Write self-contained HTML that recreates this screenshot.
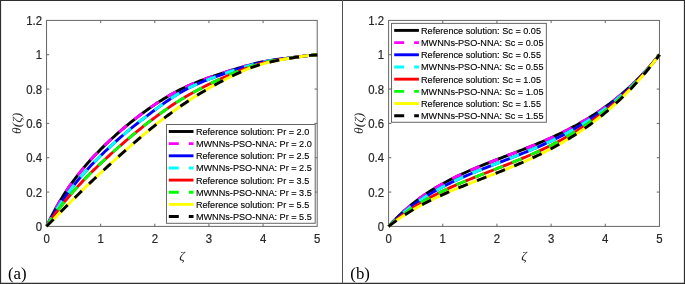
<!DOCTYPE html>
<html><head><meta charset="utf-8"><title>Figure</title>
<style>
html,body{margin:0;padding:0;background:#fff;}
body{width:685px;height:284px;overflow:hidden;font-family:"Liberation Sans",sans-serif;}
svg{display:block;will-change:transform}
.tk{font-family:"Liberation Sans",sans-serif;font-size:11.4px;fill:#262626;stroke:#262626;stroke-width:0.18px}
.lg{font-family:"Liberation Sans",sans-serif;font-size:9.14px;fill:#000;stroke:#000;stroke-width:0.12px}
.al{font-family:"Liberation Serif",serif;font-style:italic;font-size:13.5px;fill:#262626}
.pn{font-family:"Liberation Serif",serif;font-size:16.8px;fill:#000}
</style></head><body>
<svg width="685" height="284" viewBox="0 0 685 284">
<defs>
<clipPath id="cl"><rect x="44.55" y="18.4" width="274.65" height="210.0"/></clipPath>
<clipPath id="cr"><rect x="386.6" y="18.4" width="274.85" height="210.0"/></clipPath>
</defs>
<rect x="0" y="0" width="685" height="284" fill="#fff"/>
<rect x="46.55" y="20.4" width="270.65" height="206.0" fill="#fff" stroke="#666" stroke-width="1"/>
<text transform="translate(46.55,243.00) scale(1,1.11)" text-anchor="middle" class="tk">0</text>
<path d="M100.68,226.4 v-2.7 M100.68,20.4 v2.7" stroke="#666" stroke-width="1" fill="none"/>
<text transform="translate(100.68,243.00) scale(1,1.11)" text-anchor="middle" class="tk">1</text>
<path d="M154.81,226.4 v-2.7 M154.81,20.4 v2.7" stroke="#666" stroke-width="1" fill="none"/>
<text transform="translate(154.81,243.00) scale(1,1.11)" text-anchor="middle" class="tk">2</text>
<path d="M208.94,226.4 v-2.7 M208.94,20.4 v2.7" stroke="#666" stroke-width="1" fill="none"/>
<text transform="translate(208.94,243.00) scale(1,1.11)" text-anchor="middle" class="tk">3</text>
<path d="M263.07,226.4 v-2.7 M263.07,20.4 v2.7" stroke="#666" stroke-width="1" fill="none"/>
<text transform="translate(263.07,243.00) scale(1,1.11)" text-anchor="middle" class="tk">4</text>
<text transform="translate(317.20,243.00) scale(1,1.11)" text-anchor="middle" class="tk">5</text>
<text transform="translate(42.05,231.00) scale(1,1.11)" text-anchor="end" class="tk">0</text>
<path d="M46.55,192.07 h2.7 M317.2,192.07 h-2.7" stroke="#666" stroke-width="1" fill="none"/>
<text transform="translate(42.05,196.67) scale(1,1.11)" text-anchor="end" class="tk">0.2</text>
<path d="M46.55,157.73 h2.7 M317.2,157.73 h-2.7" stroke="#666" stroke-width="1" fill="none"/>
<text transform="translate(42.05,162.33) scale(1,1.11)" text-anchor="end" class="tk">0.4</text>
<path d="M46.55,123.40 h2.7 M317.2,123.40 h-2.7" stroke="#666" stroke-width="1" fill="none"/>
<text transform="translate(42.05,128.00) scale(1,1.11)" text-anchor="end" class="tk">0.6</text>
<path d="M46.55,89.07 h2.7 M317.2,89.07 h-2.7" stroke="#666" stroke-width="1" fill="none"/>
<text transform="translate(42.05,93.67) scale(1,1.11)" text-anchor="end" class="tk">0.8</text>
<path d="M46.55,54.73 h2.7 M317.2,54.73 h-2.7" stroke="#666" stroke-width="1" fill="none"/>
<text transform="translate(42.05,59.33) scale(1,1.11)" text-anchor="end" class="tk">1</text>
<text transform="translate(42.05,25.00) scale(1,1.11)" text-anchor="end" class="tk">1.2</text>
<text x="181.88" y="259.90" text-anchor="middle" class="al">ζ</text>
<text transform="translate(21.25,123.40) rotate(-90)" text-anchor="middle" class="al">θ(ζ)</text>
<g clip-path="url(#cl)" fill="none" stroke-width="2.9" stroke-linejoin="round">
<path d="M46.55,226.40 L48.81,221.77 L51.06,217.27 L53.32,212.93 L55.57,208.74 L57.83,204.71 L60.08,200.85 L62.34,197.16 L64.59,193.61 L66.85,190.19 L69.10,186.89 L71.36,183.69 L73.61,180.59 L75.87,177.58 L78.13,174.67 L80.38,171.85 L82.64,169.10 L84.89,166.43 L87.15,163.81 L89.40,161.26 L91.66,158.77 L93.91,156.34 L96.17,153.97 L98.42,151.64 L100.68,149.35 L102.94,147.10 L105.19,144.90 L107.45,142.74 L109.70,140.62 L111.96,138.53 L114.21,136.48 L116.47,134.45 L118.72,132.46 L120.98,130.50 L123.23,128.57 L125.49,126.67 L127.74,124.81 L130.00,122.96 L132.26,121.15 L134.51,119.36 L136.77,117.61 L139.02,115.88 L141.28,114.18 L143.53,112.51 L145.79,110.86 L148.04,109.25 L150.30,107.66 L152.55,106.10 L154.81,104.58 L157.07,103.08 L159.32,101.62 L161.58,100.18 L163.83,98.78 L166.09,97.41 L168.34,96.07 L170.60,94.78 L172.85,93.51 L175.11,92.27 L177.36,91.07 L179.62,89.91 L181.88,88.78 L184.13,87.69 L186.39,86.64 L188.64,85.61 L190.90,84.62 L193.15,83.66 L195.41,82.73 L197.66,81.83 L199.92,80.96 L202.17,80.10 L204.43,79.27 L206.68,78.46 L208.94,77.66 L211.20,76.88 L213.45,76.11 L215.71,75.35 L217.96,74.60 L220.22,73.86 L222.47,73.12 L224.73,72.39 L226.98,71.67 L229.24,70.96 L231.49,70.25 L233.75,69.56 L236.00,68.87 L238.26,68.20 L240.52,67.54 L242.77,66.89 L245.03,66.26 L247.28,65.64 L249.54,65.04 L251.79,64.44 L254.05,63.85 L256.30,63.28 L258.56,62.76 L260.81,62.26 L263.07,61.79 L265.33,61.35 L267.58,60.94 L269.84,60.56 L272.09,60.20 L274.35,59.86 L276.60,59.55 L278.86,59.24 L281.11,58.95 L283.37,58.66 L285.62,58.38 L287.88,58.11 L290.13,57.83 L292.39,57.56 L294.65,57.27 L296.90,56.97 L299.16,56.67 L301.41,56.38 L303.67,56.10 L305.92,55.83 L308.18,55.59 L310.43,55.38 L312.69,55.21 L314.94,55.07 L317.20,54.98" stroke="#000000"/>
<path d="M46.55,226.40 L48.81,221.77 L51.06,217.27 L53.32,212.93 L55.57,208.74 L57.83,204.71 L60.08,200.85 L62.34,197.16 L64.59,193.61 L66.85,190.19 L69.10,186.89 L71.36,183.69 L73.61,180.59 L75.87,177.58 L78.13,174.67 L80.38,171.85 L82.64,169.10 L84.89,166.43 L87.15,163.81 L89.40,161.26 L91.66,158.77 L93.91,156.34 L96.17,153.97 L98.42,151.64 L100.68,149.35 L102.94,147.10 L105.19,144.90 L107.45,142.74 L109.70,140.62 L111.96,138.53 L114.21,136.48 L116.47,134.45 L118.72,132.46 L120.98,130.50 L123.23,128.57 L125.49,126.67 L127.74,124.81 L130.00,122.96 L132.26,121.15 L134.51,119.36 L136.77,117.61 L139.02,115.88 L141.28,114.18 L143.53,112.51 L145.79,110.86 L148.04,109.25 L150.30,107.66 L152.55,106.10 L154.81,104.58 L157.07,103.08 L159.32,101.62 L161.58,100.18 L163.83,98.78 L166.09,97.41 L168.34,96.07 L170.60,94.78 L172.85,93.51 L175.11,92.27 L177.36,91.07 L179.62,89.91 L181.88,88.78 L184.13,87.69 L186.39,86.64 L188.64,85.61 L190.90,84.62 L193.15,83.66 L195.41,82.73 L197.66,81.83 L199.92,80.96 L202.17,80.10 L204.43,79.27 L206.68,78.46 L208.94,77.66 L211.20,76.88 L213.45,76.11 L215.71,75.35 L217.96,74.60 L220.22,73.86 L222.47,73.12 L224.73,72.39 L226.98,71.67 L229.24,70.96 L231.49,70.25 L233.75,69.56 L236.00,68.87 L238.26,68.20 L240.52,67.54 L242.77,66.89 L245.03,66.26 L247.28,65.64 L249.54,65.04 L251.79,64.44 L254.05,63.85 L256.30,63.28 L258.56,62.76 L260.81,62.26 L263.07,61.79 L265.33,61.35 L267.58,60.94 L269.84,60.56 L272.09,60.20 L274.35,59.86 L276.60,59.55 L278.86,59.24 L281.11,58.95 L283.37,58.66 L285.62,58.38 L287.88,58.11 L290.13,57.83 L292.39,57.56 L294.65,57.27 L296.90,56.97 L299.16,56.67 L301.41,56.38 L303.67,56.10 L305.92,55.83 L308.18,55.59 L310.43,55.38 L312.69,55.21 L314.94,55.07 L317.20,54.98" stroke="#ff00ff" stroke-dasharray="10 10" stroke-dashoffset="0"/>
<path d="M46.55,226.37 L48.81,222.38 L51.06,218.48 L53.32,214.70 L55.57,211.02 L57.83,207.46 L60.08,204.03 L62.34,200.72 L64.59,197.51 L66.85,194.40 L69.10,191.37 L71.36,188.42 L73.61,185.55 L75.87,182.74 L78.13,180.01 L80.38,177.35 L82.64,174.75 L84.89,172.21 L87.15,169.71 L89.40,167.26 L91.66,164.86 L93.91,162.51 L96.17,160.21 L98.42,157.94 L100.68,155.70 L102.94,153.50 L105.19,151.33 L107.45,149.20 L109.70,147.09 L111.96,145.01 L114.21,142.96 L116.47,140.94 L118.72,138.93 L120.98,136.96 L123.23,135.01 L125.49,133.08 L127.74,131.18 L130.00,129.30 L132.26,127.44 L134.51,125.61 L136.77,123.80 L139.02,122.02 L141.28,120.26 L143.53,118.53 L145.79,116.81 L148.04,115.09 L150.30,113.37 L152.55,111.66 L154.81,109.97 L157.07,108.29 L159.32,106.62 L161.58,104.98 L163.83,103.36 L166.09,101.77 L168.34,100.21 L170.60,98.69 L172.85,97.21 L175.11,95.76 L177.36,94.35 L179.62,92.99 L181.88,91.68 L184.13,90.41 L186.39,89.19 L188.64,88.02 L190.90,86.89 L193.15,85.82 L195.41,84.79 L197.66,83.80 L199.92,82.85 L202.17,81.92 L204.43,81.01 L206.68,80.13 L208.94,79.26 L211.20,78.40 L213.45,77.56 L215.71,76.73 L217.96,75.90 L220.22,75.09 L222.47,74.28 L224.73,73.49 L226.98,72.70 L229.24,71.93 L231.49,71.16 L233.75,70.40 L236.00,69.66 L238.26,68.93 L240.52,68.22 L242.77,67.52 L245.03,66.84 L247.28,66.18 L249.54,65.53 L251.79,64.89 L254.05,64.27 L256.30,63.67 L258.56,63.11 L260.81,62.58 L263.07,62.09 L265.33,61.62 L267.58,61.19 L269.84,60.78 L272.09,60.40 L274.35,60.04 L276.60,59.70 L278.86,59.38 L281.11,59.07 L283.37,58.76 L285.62,58.47 L287.88,58.18 L290.13,57.89 L292.39,57.60 L294.65,57.30 L296.90,57.00 L299.16,56.69 L301.41,56.39 L303.67,56.11 L305.92,55.84 L308.18,55.60 L310.43,55.38 L312.69,55.21 L314.94,55.07 L317.20,54.98" stroke="#0000ff"/>
<path d="M46.55,226.37 L48.81,222.38 L51.06,218.48 L53.32,214.70 L55.57,211.02 L57.83,207.46 L60.08,204.03 L62.34,200.72 L64.59,197.51 L66.85,194.40 L69.10,191.37 L71.36,188.42 L73.61,185.55 L75.87,182.74 L78.13,180.01 L80.38,177.35 L82.64,174.75 L84.89,172.21 L87.15,169.71 L89.40,167.26 L91.66,164.86 L93.91,162.51 L96.17,160.21 L98.42,157.94 L100.68,155.70 L102.94,153.50 L105.19,151.33 L107.45,149.20 L109.70,147.09 L111.96,145.01 L114.21,142.96 L116.47,140.94 L118.72,138.93 L120.98,136.96 L123.23,135.01 L125.49,133.08 L127.74,131.18 L130.00,129.30 L132.26,127.44 L134.51,125.61 L136.77,123.80 L139.02,122.02 L141.28,120.26 L143.53,118.53 L145.79,116.81 L148.04,115.09 L150.30,113.37 L152.55,111.66 L154.81,109.97 L157.07,108.29 L159.32,106.62 L161.58,104.98 L163.83,103.36 L166.09,101.77 L168.34,100.21 L170.60,98.69 L172.85,97.21 L175.11,95.76 L177.36,94.35 L179.62,92.99 L181.88,91.68 L184.13,90.41 L186.39,89.19 L188.64,88.02 L190.90,86.89 L193.15,85.82 L195.41,84.79 L197.66,83.80 L199.92,82.85 L202.17,81.92 L204.43,81.01 L206.68,80.13 L208.94,79.26 L211.20,78.40 L213.45,77.56 L215.71,76.73 L217.96,75.90 L220.22,75.09 L222.47,74.28 L224.73,73.49 L226.98,72.70 L229.24,71.93 L231.49,71.16 L233.75,70.40 L236.00,69.66 L238.26,68.93 L240.52,68.22 L242.77,67.52 L245.03,66.84 L247.28,66.18 L249.54,65.53 L251.79,64.89 L254.05,64.27 L256.30,63.67 L258.56,63.11 L260.81,62.58 L263.07,62.09 L265.33,61.62 L267.58,61.19 L269.84,60.78 L272.09,60.40 L274.35,60.04 L276.60,59.70 L278.86,59.38 L281.11,59.07 L283.37,58.76 L285.62,58.47 L287.88,58.18 L290.13,57.89 L292.39,57.60 L294.65,57.30 L296.90,57.00 L299.16,56.69 L301.41,56.39 L303.67,56.11 L305.92,55.84 L308.18,55.60 L310.43,55.38 L312.69,55.21 L314.94,55.07 L317.20,54.98" stroke="#00ffff" stroke-dasharray="10 10" stroke-dashoffset="0"/>
<path d="M46.55,226.35 L48.81,222.98 L51.06,219.69 L53.32,216.48 L55.57,213.36 L57.83,210.33 L60.08,207.38 L62.34,204.51 L64.59,201.71 L66.85,198.98 L69.10,196.30 L71.36,193.68 L73.61,191.11 L75.87,188.58 L78.13,186.11 L80.38,183.68 L82.64,181.29 L84.89,178.94 L87.15,176.62 L89.40,174.34 L91.66,172.09 L93.91,169.88 L96.17,167.69 L98.42,165.53 L100.68,163.39 L102.94,161.28 L105.19,159.19 L107.45,157.12 L109.70,155.07 L111.96,153.03 L114.21,151.01 L116.47,149.01 L118.72,147.02 L120.98,145.05 L123.23,143.09 L125.49,141.16 L127.74,139.23 L130.00,137.32 L132.26,135.43 L134.51,133.56 L136.77,131.70 L139.02,129.86 L141.28,128.04 L143.53,126.24 L145.79,124.46 L148.04,122.70 L150.30,120.96 L152.55,119.24 L154.81,117.54 L157.07,115.86 L159.32,114.21 L161.58,112.58 L163.83,110.97 L166.09,109.39 L168.34,107.83 L170.60,106.30 L172.85,104.79 L175.11,103.32 L177.36,101.86 L179.62,100.44 L181.88,99.04 L184.13,97.68 L186.39,96.34 L188.64,95.03 L190.90,93.74 L193.15,92.48 L195.41,91.25 L197.66,90.04 L199.92,88.86 L202.17,87.69 L204.43,86.55 L206.68,85.42 L208.94,84.32 L211.20,83.23 L213.45,82.15 L215.71,81.09 L217.96,80.05 L220.22,79.01 L222.47,77.99 L224.73,76.98 L226.98,75.99 L229.24,75.01 L231.49,74.05 L233.75,73.10 L236.00,72.18 L238.26,71.27 L240.52,70.39 L242.77,69.53 L245.03,68.69 L247.28,67.88 L249.54,67.10 L251.79,66.34 L254.05,65.61 L256.30,64.91 L258.56,64.25 L260.81,63.63 L263.07,63.04 L265.33,62.49 L267.58,61.98 L269.84,61.49 L272.09,61.04 L274.35,60.61 L276.60,60.20 L278.86,59.81 L281.11,59.44 L283.37,59.09 L285.62,58.74 L287.88,58.41 L290.13,58.08 L292.39,57.76 L294.65,57.42 L296.90,57.09 L299.16,56.76 L301.41,56.44 L303.67,56.13 L305.92,55.85 L308.18,55.60 L310.43,55.38 L312.69,55.21 L314.94,55.07 L317.20,54.98" stroke="#ff0000"/>
<path d="M46.55,226.35 L48.81,222.98 L51.06,219.69 L53.32,216.48 L55.57,213.36 L57.83,210.33 L60.08,207.38 L62.34,204.51 L64.59,201.71 L66.85,198.98 L69.10,196.30 L71.36,193.68 L73.61,191.11 L75.87,188.58 L78.13,186.11 L80.38,183.68 L82.64,181.29 L84.89,178.94 L87.15,176.62 L89.40,174.34 L91.66,172.09 L93.91,169.88 L96.17,167.69 L98.42,165.53 L100.68,163.39 L102.94,161.28 L105.19,159.19 L107.45,157.12 L109.70,155.07 L111.96,153.03 L114.21,151.01 L116.47,149.01 L118.72,147.02 L120.98,145.05 L123.23,143.09 L125.49,141.16 L127.74,139.23 L130.00,137.32 L132.26,135.43 L134.51,133.56 L136.77,131.70 L139.02,129.86 L141.28,128.04 L143.53,126.24 L145.79,124.46 L148.04,122.70 L150.30,120.96 L152.55,119.24 L154.81,117.54 L157.07,115.86 L159.32,114.21 L161.58,112.58 L163.83,110.97 L166.09,109.39 L168.34,107.83 L170.60,106.30 L172.85,104.79 L175.11,103.32 L177.36,101.86 L179.62,100.44 L181.88,99.04 L184.13,97.68 L186.39,96.34 L188.64,95.03 L190.90,93.74 L193.15,92.48 L195.41,91.25 L197.66,90.04 L199.92,88.86 L202.17,87.69 L204.43,86.55 L206.68,85.42 L208.94,84.32 L211.20,83.23 L213.45,82.15 L215.71,81.09 L217.96,80.05 L220.22,79.01 L222.47,77.99 L224.73,76.98 L226.98,75.99 L229.24,75.01 L231.49,74.05 L233.75,73.10 L236.00,72.18 L238.26,71.27 L240.52,70.39 L242.77,69.53 L245.03,68.69 L247.28,67.88 L249.54,67.10 L251.79,66.34 L254.05,65.61 L256.30,64.91 L258.56,64.25 L260.81,63.63 L263.07,63.04 L265.33,62.49 L267.58,61.98 L269.84,61.49 L272.09,61.04 L274.35,60.61 L276.60,60.20 L278.86,59.81 L281.11,59.44 L283.37,59.09 L285.62,58.74 L287.88,58.41 L290.13,58.08 L292.39,57.76 L294.65,57.42 L296.90,57.09 L299.16,56.76 L301.41,56.44 L303.67,56.13 L305.92,55.85 L308.18,55.60 L310.43,55.38 L312.69,55.21 L314.94,55.07 L317.20,54.98" stroke="#00ff00" stroke-dasharray="10 10" stroke-dashoffset="0"/>
<path d="M46.55,226.30 L48.81,224.03 L51.06,221.76 L53.32,219.48 L55.57,217.20 L57.83,214.91 L60.08,212.63 L62.34,210.34 L64.59,208.05 L66.85,205.77 L69.10,203.49 L71.36,201.22 L73.61,198.96 L75.87,196.71 L78.13,194.47 L80.38,192.24 L82.64,190.02 L84.89,187.83 L87.15,185.65 L89.40,183.48 L91.66,181.33 L93.91,179.20 L96.17,177.07 L98.42,174.97 L100.68,172.87 L102.94,170.79 L105.19,168.72 L107.45,166.65 L109.70,164.59 L111.96,162.54 L114.21,160.50 L116.47,158.47 L118.72,156.44 L120.98,154.42 L123.23,152.41 L125.49,150.41 L127.74,148.41 L130.00,146.43 L132.26,144.46 L134.51,142.50 L136.77,140.55 L139.02,138.62 L141.28,136.70 L143.53,134.79 L145.79,132.90 L148.04,131.03 L150.30,129.17 L152.55,127.33 L154.81,125.51 L157.07,123.71 L159.32,121.92 L161.58,120.16 L163.83,118.41 L166.09,116.69 L168.34,114.98 L170.60,113.30 L172.85,111.64 L175.11,110.00 L177.36,108.39 L179.62,106.80 L181.88,105.23 L184.13,103.69 L186.39,102.18 L188.64,100.68 L190.90,99.22 L193.15,97.77 L195.41,96.35 L197.66,94.96 L199.92,93.58 L202.17,92.23 L204.43,90.89 L206.68,89.58 L208.94,88.29 L211.20,87.01 L213.45,85.75 L215.71,84.51 L217.96,83.29 L220.22,82.08 L222.47,80.89 L224.73,79.71 L226.98,78.56 L229.24,77.42 L231.49,76.30 L233.75,75.21 L236.00,74.14 L238.26,73.09 L240.52,72.07 L242.77,71.09 L245.03,70.13 L247.28,69.20 L249.54,68.32 L251.79,67.46 L254.05,66.65 L256.30,65.87 L258.56,65.14 L260.81,64.44 L263.07,63.79 L265.33,63.17 L267.58,62.59 L269.84,62.04 L272.09,61.53 L274.35,61.04 L276.60,60.59 L278.86,60.15 L281.11,59.74 L283.37,59.34 L285.62,58.96 L287.88,58.59 L290.13,58.23 L292.39,57.87 L294.65,57.52 L296.90,57.16 L299.16,56.81 L301.41,56.47 L303.67,56.15 L305.92,55.86 L308.18,55.61 L310.43,55.38 L312.69,55.21 L314.94,55.07 L317.20,54.98" stroke="#ffff00"/>
<path d="M46.55,226.30 L48.81,224.03 L51.06,221.76 L53.32,219.48 L55.57,217.20 L57.83,214.91 L60.08,212.63 L62.34,210.34 L64.59,208.05 L66.85,205.77 L69.10,203.49 L71.36,201.22 L73.61,198.96 L75.87,196.71 L78.13,194.47 L80.38,192.24 L82.64,190.02 L84.89,187.83 L87.15,185.65 L89.40,183.48 L91.66,181.33 L93.91,179.20 L96.17,177.07 L98.42,174.97 L100.68,172.87 L102.94,170.79 L105.19,168.72 L107.45,166.65 L109.70,164.59 L111.96,162.54 L114.21,160.50 L116.47,158.47 L118.72,156.44 L120.98,154.42 L123.23,152.41 L125.49,150.41 L127.74,148.41 L130.00,146.43 L132.26,144.46 L134.51,142.50 L136.77,140.55 L139.02,138.62 L141.28,136.70 L143.53,134.79 L145.79,132.90 L148.04,131.03 L150.30,129.17 L152.55,127.33 L154.81,125.51 L157.07,123.71 L159.32,121.92 L161.58,120.16 L163.83,118.41 L166.09,116.69 L168.34,114.98 L170.60,113.30 L172.85,111.64 L175.11,110.00 L177.36,108.39 L179.62,106.80 L181.88,105.23 L184.13,103.69 L186.39,102.18 L188.64,100.68 L190.90,99.22 L193.15,97.77 L195.41,96.35 L197.66,94.96 L199.92,93.58 L202.17,92.23 L204.43,90.89 L206.68,89.58 L208.94,88.29 L211.20,87.01 L213.45,85.75 L215.71,84.51 L217.96,83.29 L220.22,82.08 L222.47,80.89 L224.73,79.71 L226.98,78.56 L229.24,77.42 L231.49,76.30 L233.75,75.21 L236.00,74.14 L238.26,73.09 L240.52,72.07 L242.77,71.09 L245.03,70.13 L247.28,69.20 L249.54,68.32 L251.79,67.46 L254.05,66.65 L256.30,65.87 L258.56,65.14 L260.81,64.44 L263.07,63.79 L265.33,63.17 L267.58,62.59 L269.84,62.04 L272.09,61.53 L274.35,61.04 L276.60,60.59 L278.86,60.15 L281.11,59.74 L283.37,59.34 L285.62,58.96 L287.88,58.59 L290.13,58.23 L292.39,57.87 L294.65,57.52 L296.90,57.16 L299.16,56.81 L301.41,56.47 L303.67,56.15 L305.92,55.86 L308.18,55.61 L310.43,55.38 L312.69,55.21 L314.94,55.07 L317.20,54.98" stroke="#000000" stroke-dasharray="10 10" stroke-dashoffset="0"/>
</g>
<rect x="166.5" y="124.5" width="148.7" height="98.8" fill="#fff" stroke="#666" stroke-width="1"/>
<path d="M168.8,131.50 h24.7" stroke="#000000" stroke-width="2.9" fill="none"/>
<text transform="translate(195.9,134.90) scale(1,1.07)" class="lg">Reference solution: Pr = 2.0</text>
<path d="M168.8,143.65 h24.7" stroke="#ff00ff" stroke-width="2.9" fill="none" stroke-dasharray="10 10"/>
<text transform="translate(195.9,147.05) scale(1,1.07)" class="lg">MWNNs-PSO-NNA: Pr = 2.0</text>
<path d="M168.8,155.80 h24.7" stroke="#0000ff" stroke-width="2.9" fill="none"/>
<text transform="translate(195.9,159.20) scale(1,1.07)" class="lg">Reference solution: Pr = 2.5</text>
<path d="M168.8,167.95 h24.7" stroke="#00ffff" stroke-width="2.9" fill="none" stroke-dasharray="10 10"/>
<text transform="translate(195.9,171.35) scale(1,1.07)" class="lg">MWNNs-PSO-NNA: Pr = 2.5</text>
<path d="M168.8,180.10 h24.7" stroke="#ff0000" stroke-width="2.9" fill="none"/>
<text transform="translate(195.9,183.50) scale(1,1.07)" class="lg">Reference solution: Pr = 3.5</text>
<path d="M168.8,192.25 h24.7" stroke="#00ff00" stroke-width="2.9" fill="none" stroke-dasharray="10 10"/>
<text transform="translate(195.9,195.65) scale(1,1.07)" class="lg">MWNNs-PSO-NNA: Pr = 3.5</text>
<path d="M168.8,204.40 h24.7" stroke="#ffff00" stroke-width="2.9" fill="none"/>
<text transform="translate(195.9,207.80) scale(1,1.07)" class="lg">Reference solution: Pr = 5.5</text>
<path d="M168.8,216.55 h24.7" stroke="#000000" stroke-width="2.9" fill="none" stroke-dasharray="10 10"/>
<text transform="translate(195.9,219.95) scale(1,1.07)" class="lg">MWNNs-PSO-NNA: Pr = 5.5</text>
<rect x="388.6" y="20.4" width="270.85" height="206.0" fill="#fff" stroke="#666" stroke-width="1"/>
<text transform="translate(388.60,243.00) scale(1,1.11)" text-anchor="middle" class="tk">0</text>
<path d="M442.77,226.4 v-2.7 M442.77,20.4 v2.7" stroke="#666" stroke-width="1" fill="none"/>
<text transform="translate(442.77,243.00) scale(1,1.11)" text-anchor="middle" class="tk">1</text>
<path d="M496.94,226.4 v-2.7 M496.94,20.4 v2.7" stroke="#666" stroke-width="1" fill="none"/>
<text transform="translate(496.94,243.00) scale(1,1.11)" text-anchor="middle" class="tk">2</text>
<path d="M551.11,226.4 v-2.7 M551.11,20.4 v2.7" stroke="#666" stroke-width="1" fill="none"/>
<text transform="translate(551.11,243.00) scale(1,1.11)" text-anchor="middle" class="tk">3</text>
<path d="M605.28,226.4 v-2.7 M605.28,20.4 v2.7" stroke="#666" stroke-width="1" fill="none"/>
<text transform="translate(605.28,243.00) scale(1,1.11)" text-anchor="middle" class="tk">4</text>
<text transform="translate(659.45,243.00) scale(1,1.11)" text-anchor="middle" class="tk">5</text>
<text transform="translate(384.10,231.00) scale(1,1.11)" text-anchor="end" class="tk">0</text>
<path d="M388.6,192.07 h2.7 M659.45,192.07 h-2.7" stroke="#666" stroke-width="1" fill="none"/>
<text transform="translate(384.10,196.67) scale(1,1.11)" text-anchor="end" class="tk">0.2</text>
<path d="M388.6,157.73 h2.7 M659.45,157.73 h-2.7" stroke="#666" stroke-width="1" fill="none"/>
<text transform="translate(384.10,162.33) scale(1,1.11)" text-anchor="end" class="tk">0.4</text>
<path d="M388.6,123.40 h2.7 M659.45,123.40 h-2.7" stroke="#666" stroke-width="1" fill="none"/>
<text transform="translate(384.10,128.00) scale(1,1.11)" text-anchor="end" class="tk">0.6</text>
<path d="M388.6,89.07 h2.7 M659.45,89.07 h-2.7" stroke="#666" stroke-width="1" fill="none"/>
<text transform="translate(384.10,93.67) scale(1,1.11)" text-anchor="end" class="tk">0.8</text>
<path d="M388.6,54.73 h2.7 M659.45,54.73 h-2.7" stroke="#666" stroke-width="1" fill="none"/>
<text transform="translate(384.10,59.33) scale(1,1.11)" text-anchor="end" class="tk">1</text>
<text transform="translate(384.10,25.00) scale(1,1.11)" text-anchor="end" class="tk">1.2</text>
<text x="524.03" y="259.90" text-anchor="middle" class="al">ζ</text>
<text transform="translate(363.30,123.40) rotate(-90)" text-anchor="middle" class="al">θ(ζ)</text>
<g clip-path="url(#cr)" fill="none" stroke-width="2.9" stroke-linejoin="round">
<path d="M388.60,226.40 L390.86,223.95 L393.11,221.57 L395.37,219.26 L397.63,217.02 L399.89,214.85 L402.14,212.74 L404.40,210.70 L406.66,208.72 L408.91,206.79 L411.17,204.92 L413.43,203.11 L415.69,201.35 L417.94,199.64 L420.20,197.98 L422.46,196.36 L424.71,194.80 L426.97,193.27 L429.23,191.79 L431.48,190.34 L433.74,188.94 L436.00,187.57 L438.26,186.24 L440.51,184.94 L442.77,183.67 L445.03,182.44 L447.28,181.23 L449.54,180.05 L451.80,178.90 L454.06,177.77 L456.31,176.67 L458.57,175.59 L460.83,174.53 L463.08,173.49 L465.34,172.47 L467.60,171.46 L469.86,170.48 L472.11,169.50 L474.37,168.55 L476.63,167.60 L478.88,166.67 L481.14,165.75 L483.40,164.84 L485.65,163.94 L487.91,163.05 L490.17,162.16 L492.43,161.28 L494.68,160.41 L496.94,159.54 L499.20,158.67 L501.45,157.80 L503.71,156.94 L505.97,156.08 L508.23,155.22 L510.48,154.35 L512.74,153.49 L515.00,152.62 L517.25,151.75 L519.51,150.87 L521.77,149.99 L524.03,149.11 L526.28,148.22 L528.54,147.32 L530.80,146.41 L533.05,145.49 L535.31,144.57 L537.57,143.63 L539.82,142.68 L542.08,141.72 L544.34,140.75 L546.60,139.77 L548.85,138.77 L551.11,137.75 L553.37,136.73 L555.62,135.68 L557.88,134.62 L560.14,133.54 L562.40,132.44 L564.65,131.32 L566.91,130.18 L569.17,129.02 L571.42,127.84 L573.68,126.63 L575.94,125.41 L578.20,124.16 L580.45,122.88 L582.71,121.58 L584.97,120.25 L587.22,118.89 L589.48,117.51 L591.74,116.09 L593.99,114.65 L596.25,113.17 L598.51,111.66 L600.77,110.12 L603.02,108.54 L605.28,106.93 L607.54,105.29 L609.79,103.60 L612.05,101.88 L614.31,100.12 L616.57,98.32 L618.82,96.47 L621.08,94.59 L623.34,92.66 L625.59,90.68 L627.85,88.66 L630.11,86.59 L632.37,84.47 L634.62,82.30 L636.88,80.08 L639.14,77.81 L641.39,75.48 L643.65,73.10 L645.91,70.66 L648.16,68.16 L650.42,65.60 L652.68,62.98 L654.94,60.30 L657.19,57.55 L659.45,54.73" stroke="#000000"/>
<path d="M388.60,226.40 L390.86,223.95 L393.11,221.57 L395.37,219.26 L397.63,217.02 L399.89,214.85 L402.14,212.74 L404.40,210.70 L406.66,208.72 L408.91,206.79 L411.17,204.92 L413.43,203.11 L415.69,201.35 L417.94,199.64 L420.20,197.98 L422.46,196.36 L424.71,194.80 L426.97,193.27 L429.23,191.79 L431.48,190.34 L433.74,188.94 L436.00,187.57 L438.26,186.24 L440.51,184.94 L442.77,183.67 L445.03,182.44 L447.28,181.23 L449.54,180.05 L451.80,178.90 L454.06,177.77 L456.31,176.67 L458.57,175.59 L460.83,174.53 L463.08,173.49 L465.34,172.47 L467.60,171.46 L469.86,170.48 L472.11,169.50 L474.37,168.55 L476.63,167.60 L478.88,166.67 L481.14,165.75 L483.40,164.84 L485.65,163.94 L487.91,163.05 L490.17,162.16 L492.43,161.28 L494.68,160.41 L496.94,159.54 L499.20,158.67 L501.45,157.80 L503.71,156.94 L505.97,156.08 L508.23,155.22 L510.48,154.35 L512.74,153.49 L515.00,152.62 L517.25,151.75 L519.51,150.87 L521.77,149.99 L524.03,149.11 L526.28,148.22 L528.54,147.32 L530.80,146.41 L533.05,145.49 L535.31,144.57 L537.57,143.63 L539.82,142.68 L542.08,141.72 L544.34,140.75 L546.60,139.77 L548.85,138.77 L551.11,137.75 L553.37,136.73 L555.62,135.68 L557.88,134.62 L560.14,133.54 L562.40,132.44 L564.65,131.32 L566.91,130.18 L569.17,129.02 L571.42,127.84 L573.68,126.63 L575.94,125.41 L578.20,124.16 L580.45,122.88 L582.71,121.58 L584.97,120.25 L587.22,118.89 L589.48,117.51 L591.74,116.09 L593.99,114.65 L596.25,113.17 L598.51,111.66 L600.77,110.12 L603.02,108.54 L605.28,106.93 L607.54,105.29 L609.79,103.60 L612.05,101.88 L614.31,100.12 L616.57,98.32 L618.82,96.47 L621.08,94.59 L623.34,92.66 L625.59,90.68 L627.85,88.66 L630.11,86.59 L632.37,84.47 L634.62,82.30 L636.88,80.08 L639.14,77.81 L641.39,75.48 L643.65,73.10 L645.91,70.66 L648.16,68.16 L650.42,65.60 L652.68,62.98 L654.94,60.30 L657.19,57.55 L659.45,54.73" stroke="#ff00ff" stroke-dasharray="10 10" stroke-dashoffset="0"/>
<path d="M388.60,226.40 L390.86,224.15 L393.11,221.97 L395.37,219.85 L397.63,217.79 L399.89,215.80 L402.14,213.86 L404.40,211.98 L406.66,210.15 L408.91,208.37 L411.17,206.65 L413.43,204.97 L415.69,203.34 L417.94,201.76 L420.20,200.22 L422.46,198.72 L424.71,197.26 L426.97,195.84 L429.23,194.45 L431.48,193.10 L433.74,191.79 L436.00,190.51 L438.26,189.25 L440.51,188.03 L442.77,186.84 L445.03,185.67 L447.28,184.52 L449.54,183.41 L451.80,182.31 L454.06,181.23 L456.31,180.18 L458.57,179.14 L460.83,178.13 L463.08,177.13 L465.34,176.14 L467.60,175.17 L469.86,174.21 L472.11,173.27 L474.37,172.33 L476.63,171.41 L478.88,170.50 L481.14,169.59 L483.40,168.69 L485.65,167.80 L487.91,166.91 L490.17,166.03 L492.43,165.15 L494.68,164.28 L496.94,163.40 L499.20,162.53 L501.45,161.66 L503.71,160.79 L505.97,159.91 L508.23,159.03 L510.48,158.15 L512.74,157.27 L515.00,156.38 L517.25,155.49 L519.51,154.59 L521.77,153.68 L524.03,152.77 L526.28,151.85 L528.54,150.91 L530.80,149.97 L533.05,149.02 L535.31,148.06 L537.57,147.08 L539.82,146.09 L542.08,145.09 L544.34,144.08 L546.60,143.05 L548.85,142.00 L551.11,140.94 L553.37,139.86 L555.62,138.76 L557.88,137.65 L560.14,136.51 L562.40,135.36 L564.65,134.18 L566.91,132.98 L569.17,131.77 L571.42,130.52 L573.68,129.26 L575.94,127.97 L578.20,126.65 L580.45,125.31 L582.71,123.94 L584.97,122.55 L587.22,121.12 L589.48,119.67 L591.74,118.19 L593.99,116.67 L596.25,115.12 L598.51,113.55 L600.77,111.93 L603.02,110.28 L605.28,108.60 L607.54,106.88 L609.79,105.12 L612.05,103.33 L614.31,101.49 L616.57,99.62 L618.82,97.70 L621.08,95.74 L623.34,93.74 L625.59,91.69 L627.85,89.59 L630.11,87.45 L632.37,85.26 L634.62,83.02 L636.88,80.73 L639.14,78.39 L641.39,75.99 L643.65,73.54 L645.91,71.03 L648.16,68.47 L650.42,65.84 L652.68,63.16 L654.94,60.42 L657.19,57.61 L659.45,54.73" stroke="#0000ff"/>
<path d="M388.60,226.40 L390.86,224.15 L393.11,221.97 L395.37,219.85 L397.63,217.79 L399.89,215.80 L402.14,213.86 L404.40,211.98 L406.66,210.15 L408.91,208.37 L411.17,206.65 L413.43,204.97 L415.69,203.34 L417.94,201.76 L420.20,200.22 L422.46,198.72 L424.71,197.26 L426.97,195.84 L429.23,194.45 L431.48,193.10 L433.74,191.79 L436.00,190.51 L438.26,189.25 L440.51,188.03 L442.77,186.84 L445.03,185.67 L447.28,184.52 L449.54,183.41 L451.80,182.31 L454.06,181.23 L456.31,180.18 L458.57,179.14 L460.83,178.13 L463.08,177.13 L465.34,176.14 L467.60,175.17 L469.86,174.21 L472.11,173.27 L474.37,172.33 L476.63,171.41 L478.88,170.50 L481.14,169.59 L483.40,168.69 L485.65,167.80 L487.91,166.91 L490.17,166.03 L492.43,165.15 L494.68,164.28 L496.94,163.40 L499.20,162.53 L501.45,161.66 L503.71,160.79 L505.97,159.91 L508.23,159.03 L510.48,158.15 L512.74,157.27 L515.00,156.38 L517.25,155.49 L519.51,154.59 L521.77,153.68 L524.03,152.77 L526.28,151.85 L528.54,150.91 L530.80,149.97 L533.05,149.02 L535.31,148.06 L537.57,147.08 L539.82,146.09 L542.08,145.09 L544.34,144.08 L546.60,143.05 L548.85,142.00 L551.11,140.94 L553.37,139.86 L555.62,138.76 L557.88,137.65 L560.14,136.51 L562.40,135.36 L564.65,134.18 L566.91,132.98 L569.17,131.77 L571.42,130.52 L573.68,129.26 L575.94,127.97 L578.20,126.65 L580.45,125.31 L582.71,123.94 L584.97,122.55 L587.22,121.12 L589.48,119.67 L591.74,118.19 L593.99,116.67 L596.25,115.12 L598.51,113.55 L600.77,111.93 L603.02,110.28 L605.28,108.60 L607.54,106.88 L609.79,105.12 L612.05,103.33 L614.31,101.49 L616.57,99.62 L618.82,97.70 L621.08,95.74 L623.34,93.74 L625.59,91.69 L627.85,89.59 L630.11,87.45 L632.37,85.26 L634.62,83.02 L636.88,80.73 L639.14,78.39 L641.39,75.99 L643.65,73.54 L645.91,71.03 L648.16,68.47 L650.42,65.84 L652.68,63.16 L654.94,60.42 L657.19,57.61 L659.45,54.73" stroke="#00ffff" stroke-dasharray="10 10" stroke-dashoffset="0"/>
<path d="M388.60,226.40 L390.86,224.43 L393.11,222.51 L395.37,220.64 L397.63,218.83 L399.89,217.07 L402.14,215.36 L404.40,213.70 L406.66,212.08 L408.91,210.50 L411.17,208.97 L413.43,207.48 L415.69,206.03 L417.94,204.61 L420.20,203.23 L422.46,201.88 L424.71,200.57 L426.97,199.29 L429.23,198.04 L431.48,196.82 L433.74,195.62 L436.00,194.45 L438.26,193.31 L440.51,192.19 L442.77,191.09 L445.03,190.01 L447.28,188.96 L449.54,187.92 L451.80,186.90 L454.06,185.89 L456.31,184.91 L458.57,183.93 L460.83,182.97 L463.08,182.02 L465.34,181.08 L467.60,180.16 L469.86,179.24 L472.11,178.33 L474.37,177.43 L476.63,176.53 L478.88,175.64 L481.14,174.75 L483.40,173.87 L485.65,172.99 L487.91,172.11 L490.17,171.24 L492.43,170.36 L494.68,169.48 L496.94,168.60 L499.20,167.72 L501.45,166.84 L503.71,165.96 L505.97,165.06 L508.23,164.17 L510.48,163.27 L512.74,162.36 L515.00,161.44 L517.25,160.52 L519.51,159.58 L521.77,158.64 L524.03,157.69 L526.28,156.73 L528.54,155.75 L530.80,154.76 L533.05,153.76 L535.31,152.75 L537.57,151.72 L539.82,150.68 L542.08,149.62 L544.34,148.55 L546.60,147.46 L548.85,146.35 L551.11,145.22 L553.37,144.07 L555.62,142.91 L557.88,141.72 L560.14,140.51 L562.40,139.28 L564.65,138.03 L566.91,136.76 L569.17,135.46 L571.42,134.13 L573.68,132.79 L575.94,131.41 L578.20,130.01 L580.45,128.58 L582.71,127.13 L584.97,125.64 L587.22,124.13 L589.48,122.58 L591.74,121.00 L593.99,119.40 L596.25,117.75 L598.51,116.08 L600.77,114.37 L603.02,112.63 L605.28,110.84 L607.54,109.03 L609.79,107.17 L612.05,105.28 L614.31,103.34 L616.57,101.37 L618.82,99.35 L621.08,97.29 L623.34,95.19 L625.59,93.04 L627.85,90.85 L630.11,88.61 L632.37,86.32 L634.62,83.99 L636.88,81.60 L639.14,79.16 L641.39,76.67 L643.65,74.13 L645.91,71.53 L648.16,68.88 L650.42,66.17 L652.68,63.40 L654.94,60.57 L657.19,57.68 L659.45,54.73" stroke="#ff0000"/>
<path d="M388.60,226.40 L390.86,224.43 L393.11,222.51 L395.37,220.64 L397.63,218.83 L399.89,217.07 L402.14,215.36 L404.40,213.70 L406.66,212.08 L408.91,210.50 L411.17,208.97 L413.43,207.48 L415.69,206.03 L417.94,204.61 L420.20,203.23 L422.46,201.88 L424.71,200.57 L426.97,199.29 L429.23,198.04 L431.48,196.82 L433.74,195.62 L436.00,194.45 L438.26,193.31 L440.51,192.19 L442.77,191.09 L445.03,190.01 L447.28,188.96 L449.54,187.92 L451.80,186.90 L454.06,185.89 L456.31,184.91 L458.57,183.93 L460.83,182.97 L463.08,182.02 L465.34,181.08 L467.60,180.16 L469.86,179.24 L472.11,178.33 L474.37,177.43 L476.63,176.53 L478.88,175.64 L481.14,174.75 L483.40,173.87 L485.65,172.99 L487.91,172.11 L490.17,171.24 L492.43,170.36 L494.68,169.48 L496.94,168.60 L499.20,167.72 L501.45,166.84 L503.71,165.96 L505.97,165.06 L508.23,164.17 L510.48,163.27 L512.74,162.36 L515.00,161.44 L517.25,160.52 L519.51,159.58 L521.77,158.64 L524.03,157.69 L526.28,156.73 L528.54,155.75 L530.80,154.76 L533.05,153.76 L535.31,152.75 L537.57,151.72 L539.82,150.68 L542.08,149.62 L544.34,148.55 L546.60,147.46 L548.85,146.35 L551.11,145.22 L553.37,144.07 L555.62,142.91 L557.88,141.72 L560.14,140.51 L562.40,139.28 L564.65,138.03 L566.91,136.76 L569.17,135.46 L571.42,134.13 L573.68,132.79 L575.94,131.41 L578.20,130.01 L580.45,128.58 L582.71,127.13 L584.97,125.64 L587.22,124.13 L589.48,122.58 L591.74,121.00 L593.99,119.40 L596.25,117.75 L598.51,116.08 L600.77,114.37 L603.02,112.63 L605.28,110.84 L607.54,109.03 L609.79,107.17 L612.05,105.28 L614.31,103.34 L616.57,101.37 L618.82,99.35 L621.08,97.29 L623.34,95.19 L625.59,93.04 L627.85,90.85 L630.11,88.61 L632.37,86.32 L634.62,83.99 L636.88,81.60 L639.14,79.16 L641.39,76.67 L643.65,74.13 L645.91,71.53 L648.16,68.88 L650.42,66.17 L652.68,63.40 L654.94,60.57 L657.19,57.68 L659.45,54.73" stroke="#00ff00" stroke-dasharray="10 10" stroke-dashoffset="0"/>
<path d="M388.60,226.40 L390.86,224.65 L393.11,222.95 L395.37,221.30 L397.63,219.69 L399.89,218.12 L402.14,216.60 L404.40,215.11 L406.66,213.66 L408.91,212.25 L411.17,210.88 L413.43,209.53 L415.69,208.23 L417.94,206.95 L420.20,205.70 L422.46,204.48 L424.71,203.29 L426.97,202.12 L429.23,200.98 L431.48,199.86 L433.74,198.77 L436.00,197.69 L438.26,196.64 L440.51,195.60 L442.77,194.58 L445.03,193.58 L447.28,192.59 L449.54,191.62 L451.80,190.66 L454.06,189.72 L456.31,188.78 L458.57,187.86 L460.83,186.94 L463.08,186.04 L465.34,185.14 L467.60,184.25 L469.86,183.36 L472.11,182.48 L474.37,181.60 L476.63,180.73 L478.88,179.86 L481.14,178.99 L483.40,178.12 L485.65,177.25 L487.91,176.38 L490.17,175.51 L492.43,174.63 L494.68,173.75 L496.94,172.87 L499.20,171.99 L501.45,171.09 L503.71,170.20 L505.97,169.29 L508.23,168.38 L510.48,167.46 L512.74,166.53 L515.00,165.59 L517.25,164.64 L519.51,163.68 L521.77,162.71 L524.03,161.73 L526.28,160.73 L528.54,159.72 L530.80,158.70 L533.05,157.66 L535.31,156.60 L537.57,155.53 L539.82,154.44 L542.08,153.34 L544.34,152.22 L546.60,151.07 L548.85,149.91 L551.11,148.73 L553.37,147.53 L555.62,146.31 L557.88,145.06 L560.14,143.79 L562.40,142.50 L564.65,141.19 L566.91,139.85 L569.17,138.49 L571.42,137.10 L573.68,135.68 L575.94,134.24 L578.20,132.77 L580.45,131.27 L582.71,129.74 L584.97,128.18 L587.22,126.59 L589.48,124.97 L591.74,123.32 L593.99,121.63 L596.25,119.91 L598.51,118.16 L600.77,116.37 L603.02,114.55 L605.28,112.69 L607.54,110.79 L609.79,108.85 L612.05,106.87 L614.31,104.86 L616.57,102.80 L618.82,100.70 L621.08,98.56 L623.34,96.38 L625.59,94.15 L627.85,91.88 L630.11,89.56 L632.37,87.19 L634.62,84.78 L636.88,82.31 L639.14,79.80 L641.39,77.23 L643.65,74.61 L645.91,71.94 L648.16,69.22 L650.42,66.44 L652.68,63.60 L654.94,60.70 L657.19,57.75 L659.45,54.73" stroke="#ffff00"/>
<path d="M388.60,226.40 L390.86,224.65 L393.11,222.95 L395.37,221.30 L397.63,219.69 L399.89,218.12 L402.14,216.60 L404.40,215.11 L406.66,213.66 L408.91,212.25 L411.17,210.88 L413.43,209.53 L415.69,208.23 L417.94,206.95 L420.20,205.70 L422.46,204.48 L424.71,203.29 L426.97,202.12 L429.23,200.98 L431.48,199.86 L433.74,198.77 L436.00,197.69 L438.26,196.64 L440.51,195.60 L442.77,194.58 L445.03,193.58 L447.28,192.59 L449.54,191.62 L451.80,190.66 L454.06,189.72 L456.31,188.78 L458.57,187.86 L460.83,186.94 L463.08,186.04 L465.34,185.14 L467.60,184.25 L469.86,183.36 L472.11,182.48 L474.37,181.60 L476.63,180.73 L478.88,179.86 L481.14,178.99 L483.40,178.12 L485.65,177.25 L487.91,176.38 L490.17,175.51 L492.43,174.63 L494.68,173.75 L496.94,172.87 L499.20,171.99 L501.45,171.09 L503.71,170.20 L505.97,169.29 L508.23,168.38 L510.48,167.46 L512.74,166.53 L515.00,165.59 L517.25,164.64 L519.51,163.68 L521.77,162.71 L524.03,161.73 L526.28,160.73 L528.54,159.72 L530.80,158.70 L533.05,157.66 L535.31,156.60 L537.57,155.53 L539.82,154.44 L542.08,153.34 L544.34,152.22 L546.60,151.07 L548.85,149.91 L551.11,148.73 L553.37,147.53 L555.62,146.31 L557.88,145.06 L560.14,143.79 L562.40,142.50 L564.65,141.19 L566.91,139.85 L569.17,138.49 L571.42,137.10 L573.68,135.68 L575.94,134.24 L578.20,132.77 L580.45,131.27 L582.71,129.74 L584.97,128.18 L587.22,126.59 L589.48,124.97 L591.74,123.32 L593.99,121.63 L596.25,119.91 L598.51,118.16 L600.77,116.37 L603.02,114.55 L605.28,112.69 L607.54,110.79 L609.79,108.85 L612.05,106.87 L614.31,104.86 L616.57,102.80 L618.82,100.70 L621.08,98.56 L623.34,96.38 L625.59,94.15 L627.85,91.88 L630.11,89.56 L632.37,87.19 L634.62,84.78 L636.88,82.31 L639.14,79.80 L641.39,77.23 L643.65,74.61 L645.91,71.94 L648.16,69.22 L650.42,66.44 L652.68,63.60 L654.94,60.70 L657.19,57.75 L659.45,54.73" stroke="#000000" stroke-dasharray="10 10" stroke-dashoffset="0"/>
</g>
<rect x="391.5" y="23.4" width="154.85" height="98.85" fill="#fff" stroke="#666" stroke-width="1"/>
<path d="M394.2,30.40 h24.7" stroke="#000000" stroke-width="2.9" fill="none"/>
<text transform="translate(421.0,33.80) scale(1,1.07)" class="lg">Reference solution: Sc = 0.05</text>
<path d="M394.2,42.59 h24.7" stroke="#ff00ff" stroke-width="2.9" fill="none" stroke-dasharray="10 10"/>
<text transform="translate(421.0,45.99) scale(1,1.07)" class="lg">MWNNs-PSO-NNA: Sc = 0.05</text>
<path d="M394.2,54.78 h24.7" stroke="#0000ff" stroke-width="2.9" fill="none"/>
<text transform="translate(421.0,58.18) scale(1,1.07)" class="lg">Reference solution: Sc = 0.55</text>
<path d="M394.2,66.97 h24.7" stroke="#00ffff" stroke-width="2.9" fill="none" stroke-dasharray="10 10"/>
<text transform="translate(421.0,70.37) scale(1,1.07)" class="lg">MWNNs-PSO-NNA: Sc = 0.55</text>
<path d="M394.2,79.16 h24.7" stroke="#ff0000" stroke-width="2.9" fill="none"/>
<text transform="translate(421.0,82.56) scale(1,1.07)" class="lg">Reference solution: Sc = 1.05</text>
<path d="M394.2,91.35 h24.7" stroke="#00ff00" stroke-width="2.9" fill="none" stroke-dasharray="10 10"/>
<text transform="translate(421.0,94.75) scale(1,1.07)" class="lg">MWNNs-PSO-NNA: Sc = 1.05</text>
<path d="M394.2,103.54 h24.7" stroke="#ffff00" stroke-width="2.9" fill="none"/>
<text transform="translate(421.0,106.94) scale(1,1.07)" class="lg">Reference solution: Sc = 1.55</text>
<path d="M394.2,115.73 h24.7" stroke="#000000" stroke-width="2.9" fill="none" stroke-dasharray="10 10"/>
<text transform="translate(421.0,119.13) scale(1,1.07)" class="lg">MWNNs-PSO-NNA: Sc = 1.55</text>
<!-- frame -->
<path d="M0.55,0 V284" stroke="#2e2e2e" stroke-width="1.1"/>
<path d="M0,0.5 H685" stroke="#2e2e2e" stroke-width="1.05"/>
<path d="M0,283.35 H685" stroke="#2e2e2e" stroke-width="1.3"/>
<path d="M684.45,0 V284" stroke="#2e2e2e" stroke-width="1.15"/>
<path d="M342.5,0 V284" stroke="#505050" stroke-width="1"/>
<text x="7.9" y="279.3" class="pn">(a)</text>
<text x="350.3" y="279.3" class="pn">(b)</text>
</svg>
</body></html>
